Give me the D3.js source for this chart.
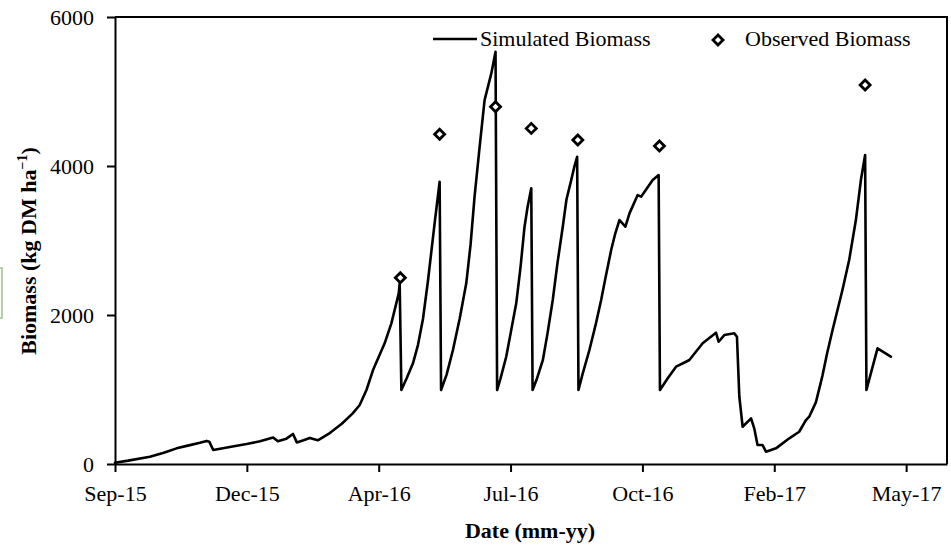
<!DOCTYPE html>
<html>
<head>
<meta charset="utf-8">
<script src="https://cdn.jsdelivr.net/npm/d3@7"></script>
<style>
  html, body { margin: 0; padding: 0; background: #fff; }
  svg { display: block; font-family: "Liberation Serif", "Times New Roman", serif; }
</style>
</head>
<body>
<svg id="chart" width="951" height="546"></svg>
<script>
// ---- Data (days after 22 Sep 2015, biomass kg DM/ha) ----
const startDate = "2015-09-22";
const simDays = [0, 10, 26.5, 37, 46.7, 56, 64.4, 69.5, 71.5, 74.5, 86, 99.8, 110, 119.9, 123.5, 130, 135, 137.9, 143, 147.7, 153.8, 162.9, 172, 180.3, 185.6, 190.7, 195.7, 204.5, 209.6, 215.2, 215.9,
  217.2, 221.2, 226, 229.8, 233.6, 237.3, 242.4, 246.2,
  247.3, 251.5, 256.3, 261.4, 266.4, 269.7, 272.7, 276.5, 280.3, 285.4, 288.6,
  289.8, 292.4, 296.7, 300, 304.3, 307.6, 310.6, 312.9, 315.7,
  316.7, 319.7, 324.5, 328, 332, 335.6, 339.6, 342.4, 346, 348.5, 350.5,
  351.5, 354.5, 359.8, 364.4, 368.7, 372, 376.3, 379.5, 382.6, 387.1, 390.2, 396.4, 399, 407.8, 412.3,
  413.3, 419.2, 425.5, 433.1, 435.6, 445.7, 455.8, 457.8, 462.1, 469.7, 471.7, 473.5, 476, 482.4, 484.8, 487.3, 491.1, 493.7, 501.3, 511.4, 518.9, 524, 526.5, 531.6, 536.6, 540, 544.2, 551.7, 556.8, 561.9, 565.7, 568.9,
  569.9, 578.3, 588.4];
const simBiomass = [17, 45, 98, 150, 210, 250, 286, 310, 300, 188, 225, 268, 305, 355, 305, 340, 403, 290, 320, 350, 318, 415, 540, 680, 792, 993, 1261, 1620, 1888, 2291, 2425,
  993, 1150, 1351, 1600, 1950, 2450, 3230, 3789,
  993, 1200, 1530, 1950, 2425, 2950, 3588, 4250, 4885, 5243, 5533,
  993, 1150, 1440, 1750, 2157, 2650, 3185, 3450, 3700,
  993, 1130, 1396, 1750, 2201, 2700, 3185, 3550, 3811, 4000, 4124,
  993, 1200, 1530, 1860, 2201, 2500, 2872, 3100, 3274, 3185, 3364, 3610, 3588, 3811, 3878,
  993, 1150, 1306, 1373, 1396, 1620, 1762, 1641, 1731, 1754, 1709, 903, 500, 613, 479, 255, 255, 165, 210, 345, 433, 590, 635, 830, 1190, 1480, 1798, 2335, 2738, 3274, 3811, 4147,
  993, 1553, 1440];
const obsDays = [216.4, 246.2, 288.6, 315.7, 351, 412.9, 568.9];
const obsBiomass = [2500, 4425, 4795, 4505, 4348, 4268, 5086];
const xTickDays = [0, 100, 200, 300, 400, 500, 600];
const yTicks = [0, 2000, 4000, 6000];
const axisEndDay = 631;

// ---- Setup ----
const svg = d3.select("#chart");
const mLeft = 115, mRight = 947, mTop = 17, mBottom = 464;
const t0 = new Date(startDate + "T00:00:00");
const toDate = d => new Date(t0.getTime() + d * 86400000);

const x = d3.scaleTime().domain([toDate(0), toDate(axisEndDay)]).range([mLeft, mRight]);
const y = d3.scaleLinear().domain([0, 6000]).range([mBottom, mTop]);

// small green artefact at left edge
svg.append("rect").attr("x", -3).attr("y", 268).attr("width", 5).attr("height", 50)
  .attr("fill", "none").attr("stroke", "#9cc08a").attr("stroke-width", 1.5);

// frame (top & right)
svg.append("path")
  .attr("d", `M${mLeft},${mTop}H${mRight}V${mBottom}`)
  .attr("fill", "none").attr("stroke", "#000").attr("stroke-width", 2);

// x axis
const fmt = d3.timeFormat("%b-%y");
const xAxis = svg.append("g").attr("transform", `translate(0,${mBottom})`)
  .call(d3.axisBottom(x).tickValues(xTickDays.map(toDate)).tickFormat(fmt).tickSize(8).tickSizeOuter(0).tickPadding(13));
xAxis.select(".domain").attr("stroke-width", 2);
xAxis.selectAll(".tick line").attr("stroke-width", 2);
xAxis.selectAll("text").attr("font-size", 22).attr("font-family", "Liberation Serif").attr("fill", "#000");

// y axis
const yAxis = svg.append("g").attr("transform", `translate(${mLeft},0)`)
  .call(d3.axisLeft(y).tickValues(yTicks).tickFormat(d3.format("d")).tickSize(8).tickSizeOuter(0).tickPadding(13));
yAxis.select(".domain").attr("stroke-width", 2);
yAxis.selectAll(".tick line").attr("stroke-width", 2);
yAxis.selectAll("text").attr("font-size", 22).attr("font-family", "Liberation Serif").attr("fill", "#000");

// axis titles
svg.append("text").attr("x", 530).attr("y", 538).attr("text-anchor", "middle")
  .attr("font-size", 22).attr("font-weight", "bold").text("Date (mm-yy)");

const yt = svg.append("text").attr("transform", "translate(36,251) rotate(-90)")
  .attr("text-anchor", "middle").attr("font-size", 22).attr("font-weight", "bold");
yt.append("tspan").text("Biomass (kg DM ha");
yt.append("tspan").attr("font-size", 14).attr("dy", -9).text("\u22121");
yt.append("tspan").attr("dy", 9).text(")");

// simulated line
const simData = simDays.map((d, i) => ({ d: toDate(d), v: simBiomass[i] }));
svg.append("path").datum(simData)
  .attr("fill", "none").attr("stroke", "#000").attr("stroke-width", 2.6)
  .attr("stroke-linejoin", "round").attr("stroke-linecap", "round")
  .attr("d", d3.line().x(p => x(p.d)).y(p => y(p.v)));

// observed diamonds
const diamond = d3.symbol().type(d3.symbolDiamond2).size(64);
svg.append("g").selectAll("path").data(obsDays.map((d, i) => ({ d: toDate(d), v: obsBiomass[i] })))
  .join("path")
  .attr("transform", p => `translate(${x(p.d)},${y(p.v)})`)
  .attr("d", diamond)
  .attr("fill", "#fff").attr("stroke", "#000").attr("stroke-width", 2.8);

// legend
const lg = svg.append("g");
lg.append("line").attr("x1", 433).attr("x2", 477).attr("y1", 39).attr("y2", 39)
  .attr("stroke", "#000").attr("stroke-width", 2.6);
lg.append("text").attr("x", 480).attr("y", 46).attr("font-size", 22).text("Simulated Biomass");
lg.append("path").attr("transform", "translate(718,40)").attr("d", diamond)
  .attr("fill", "#fff").attr("stroke", "#000").attr("stroke-width", 2.8);
lg.append("text").attr("x", 745).attr("y", 46).attr("font-size", 22).text("Observed Biomass");
</script>
</body>
</html>
